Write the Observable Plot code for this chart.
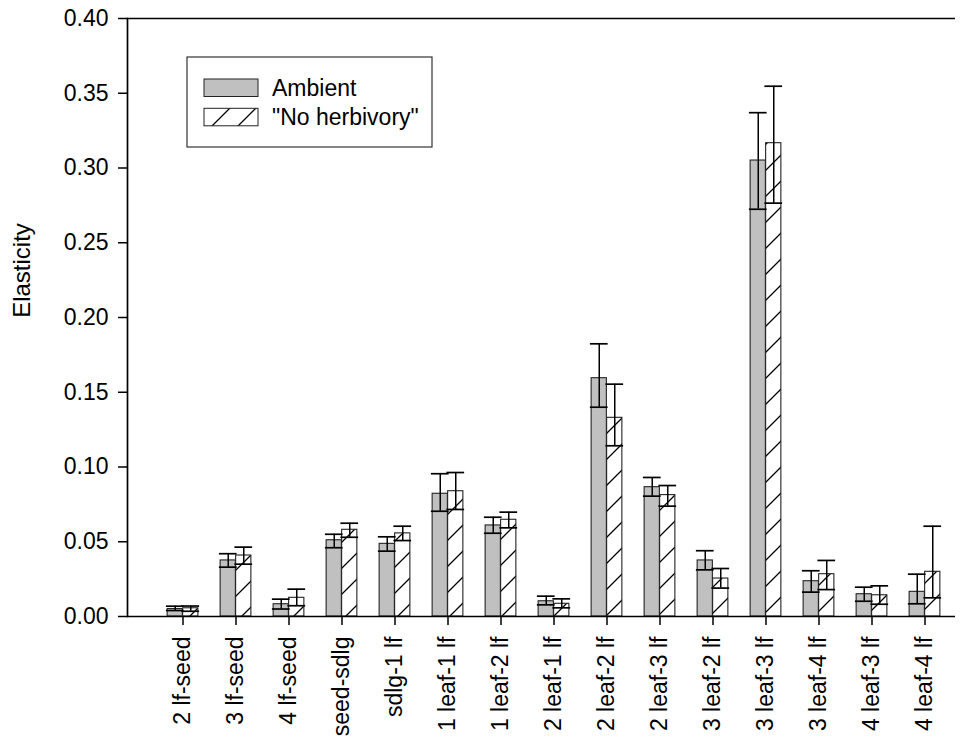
<!DOCTYPE html>
<html><head><meta charset="utf-8">
<script src="https://cdn.jsdelivr.net/npm/d3@7"></script>
<script src="https://cdn.jsdelivr.net/npm/@observablehq/plot@0.6"></script>
<style>
body{margin:0;background:#fff;}
</style></head><body><div id="chart"></div>
<script>
// ---- data ----
const categories = ["2 lf-seed","3 lf-seed","4 lf-seed","seed-sdlg","sdlg-1 lf","1 leaf-1 lf","1 leaf-2 lf","2 leaf-1 lf","2 leaf-2 lf","2 leaf-3 lf","3 leaf-2 lf","3 leaf-3 lf","3 leaf-4 lf","4 leaf-3 lf","4 leaf-4 lf"];
const seriesNames = ["Ambient", "\"No herbivory\""];
const ambient     = [0.0050,0.0375,0.0082,0.0510,0.0486,0.0821,0.0609,0.0102,0.1594,0.0865,0.0375,0.3050,0.0236,0.0149,0.0165];
const ambientLow  = [0.0040,0.0330,0.0050,0.0460,0.0437,0.0704,0.0557,0.0078,0.1400,0.0805,0.0312,0.2724,0.0163,0.0102,0.0085];
const ambientHigh = [0.0069,0.0420,0.0116,0.0550,0.0533,0.0955,0.0664,0.0136,0.1824,0.0930,0.0440,0.3370,0.0306,0.0196,0.0283];
const noHerb      = [0.0055,0.0408,0.0125,0.0580,0.0556,0.0838,0.0647,0.0085,0.1329,0.0812,0.0254,0.3166,0.0283,0.0142,0.0299];
const noHerbLow   = [0.0035,0.0350,0.0072,0.0530,0.0508,0.0716,0.0593,0.0058,0.1142,0.0738,0.0190,0.2765,0.0180,0.0082,0.0125];
const noHerbHigh  = [0.0070,0.0464,0.0183,0.0624,0.0604,0.0963,0.0698,0.0118,0.1554,0.0876,0.0321,0.3547,0.0375,0.0205,0.0604];
const yTicks = [0,0.05,0.10,0.15,0.20,0.25,0.30,0.35,0.40];
const yLabel = "Elasticity";

const rows = categories.map((c, i) => ({
  category: c,
  ambient: ambient[i], ambientLow: ambientLow[i], ambientHigh: ambientHigh[i],
  noHerb: noHerb[i], noHerbLow: noHerbLow[i], noHerbHigh: noHerbHigh[i]
}));

// ---- layout ----
const W = 969, H = 742, mL = 127, mR = 14, mT = 18, mB = 126;
const xRange = [154, 953];
const bw = (xRange[1] - xRange[0]) / categories.length;
const barW = 15.5, capW = 18;
const ink = "#000";
const FS = 23;

const defsMark = () => {
  const defs = d3.create("svg:defs");
  const p = defs.append("pattern").attr("id", "hatch").attr("patternUnits", "userSpaceOnUse")
    .attr("width", 26).attr("height", 26);
  p.append("rect").attr("width", 26).attr("height", 26).attr("fill", "#fff");
  p.append("path").attr("d", "M0,26L26,0M-6.5,6.5L6.5,-6.5M19.5,32.5L32.5,19.5")
    .attr("stroke", "#000").attr("stroke-width", 1.3);
  return defs.node();
};

const legendMark = () => {
  const g = d3.create("svg:g");
  g.append("rect").attr("x", 187).attr("y", 57).attr("width", 245).attr("height", 90)
    .attr("fill", "#fff").attr("stroke", "#333").attr("stroke-width", 1.2);
  const fills = ["#c0c0c0", "url(#hatch)"];
  seriesNames.forEach((name, i) => {
    const y = 79 + i * 29.3;
    g.append("rect").attr("x", 204).attr("y", y).attr("width", 54).attr("height", 17.5)
      .attr("fill", fills[i]).attr("stroke", "#222").attr("stroke-width", 1);
    g.append("text").attr("x", 272).attr("y", y + 17).attr("font-size", FS)
      .attr("text-anchor", "start").attr("fill", "#000").text(name);
  });
  return g.node();
};

const chart = Plot.plot({
  width: W, height: H,
  marginLeft: mL, marginRight: mR, marginTop: mT, marginBottom: mB,
  style: `font-family:'Liberation Sans',Arial,sans-serif;font-size:${FS}px;background:#fff;color:#000;overflow:visible;`,
  x: {type: "band", domain: categories, range: xRange, padding: 0},
  y: {domain: [0, 0.4]},
  marks: [
    defsMark,
    Plot.barY(rows, {x: "category", y: "ambient", fill: "#c0c0c0", stroke: "#222", strokeWidth: 1.1,
      insetLeft: bw / 2 - barW, insetRight: bw / 2}),
    Plot.barY(rows, {x: "category", y: "noHerb", fill: "url(#hatch)", stroke: "#222", strokeWidth: 1.1,
      insetLeft: bw / 2, insetRight: bw / 2 - barW}),
    Plot.ruleX(rows, {x: "category", y1: "ambientLow", y2: "ambientHigh", dx: -barW / 2, stroke: ink, strokeWidth: 1.5}),
    Plot.tickY(rows, {x: "category", y: "ambientLow", dx: -barW / 2, insetLeft: (bw - capW) / 2, insetRight: (bw - capW) / 2, stroke: ink, strokeWidth: 1.7}),
    Plot.tickY(rows, {x: "category", y: "ambientHigh", dx: -barW / 2, insetLeft: (bw - capW) / 2, insetRight: (bw - capW) / 2, stroke: ink, strokeWidth: 1.7}),
    Plot.ruleX(rows, {x: "category", y1: "noHerbLow", y2: "noHerbHigh", dx: barW / 2, stroke: ink, strokeWidth: 1.5}),
    Plot.tickY(rows, {x: "category", y: "noHerbLow", dx: barW / 2, insetLeft: (bw - capW) / 2, insetRight: (bw - capW) / 2, stroke: ink, strokeWidth: 1.7}),
    Plot.tickY(rows, {x: "category", y: "noHerbHigh", dx: barW / 2, insetLeft: (bw - capW) / 2, insetRight: (bw - capW) / 2, stroke: ink, strokeWidth: 1.7}),
    Plot.ruleY([0, 0.4], {stroke: ink, strokeWidth: 1.7}),
    Plot.frame({anchor: "left", stroke: ink, strokeWidth: 1.7}),
    Plot.axisY({ticks: yTicks, tickFormat: d3.format(".2f"), tickSize: 9, tickPadding: 10, label: null, strokeWidth: 1.5, fontSize: FS}),
    Plot.axisX({tickRotate: -90, tickSize: 9, tickPadding: 11, label: null, strokeWidth: 1.5, fontSize: FS}),
    Plot.text([yLabel], {frameAnchor: "left", textAnchor: "middle", rotate: -90, dx: -105, dy: -47, fontSize: 24}),
    legendMark
  ]
});
document.getElementById("chart").appendChild(chart);
</script>
</body></html>
